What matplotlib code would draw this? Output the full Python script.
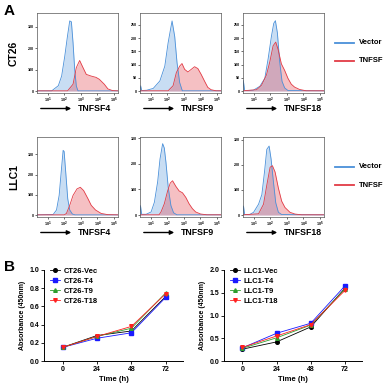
import numpy as np
import matplotlib
matplotlib.use("Agg")
import matplotlib.pyplot as plt
from matplotlib.lines import Line2D
from matplotlib.patches import FancyArrowPatch

plt.rcParams["font.family"] = ["Liberation Sans", "DejaVu Sans"]
plt.rcParams["font.weight"] = "bold"

# ---- flow histograms (x in log10 decades, y = count) ----
ct26_f4_vec_x = [0.35, 1.24, 1.64, 1.84, 2.03, 2.19, 2.33, 2.43, 2.53, 2.63, 2.73, 2.83, 5.25]
ct26_f4_vec_y = [1, 1, 25, 70, 163, 255, 328, 324, 226, 101, 23, 1, 1]
ct26_f4_tnf_x = [0.35, 2.2, 2.53, 2.73, 2.93, 3.13, 3.33, 3.63, 3.92, 4.12, 4.42, 4.64, 4.92, 5.25]
ct26_f4_tnf_y = [1, 1, 32, 110, 143, 110, 78, 70, 64, 55, 32, 10, 2, 1]

ct26_f9_vec_x = [0.35, 0.39, 0.45, 0.75, 1.15, 1.55, 1.85, 2.05, 2.19, 2.29, 2.45, 2.59, 2.75, 2.91, 5.25]
ct26_f9_vec_y = [2, 20, 2, 3, 10, 38, 94, 182, 231, 265, 206, 107, 32, 1, 1]
ct26_f9_tnf_x = [0.35, 2.05, 2.35, 2.55, 2.75, 2.89, 3.05, 3.25, 3.45, 3.65, 3.85, 4.05, 4.25, 4.45, 4.65, 4.95, 5.25]
ct26_f9_tnf_y = [1, 1, 20, 70, 94, 104, 82, 72, 82, 92, 85, 63, 38, 14, 5, 1, 1]

ct26_f18_vec_x = [0.35, 0.37, 0.45, 0.97, 1.37, 1.67, 1.87, 2.07, 2.21, 2.31, 2.43, 2.57, 2.71, 2.87, 3.07, 5.25]
ct26_f18_vec_y = [5, 40, 2, 3, 18, 48, 122, 207, 256, 266, 220, 110, 37, 12, 2, 1]
ct26_f18_tnf_x = [0.35, 1.17, 1.47, 1.77, 1.97, 2.17, 2.33, 2.47, 2.67, 2.87, 3.07, 3.27, 3.47, 3.77, 4.17, 5.25]
ct26_f18_tnf_y = [1, 5, 22, 61, 110, 171, 185, 158, 103, 78, 48, 26, 15, 6, 1, 1]

llc1_f4_vec_x = [0.35, 1.33, 1.53, 1.69, 1.81, 1.93, 1.99, 2.09, 2.21, 2.33, 2.49, 2.65, 5.25]
llc1_f4_vec_y = [1, 3, 25, 97, 209, 319, 314, 209, 80, 25, 5, 1, 1]
llc1_f4_tnf_x = [0.35, 2.0, 2.13, 2.33, 2.53, 2.77, 2.97, 3.17, 3.43, 3.63, 3.89, 4.23, 4.63, 5.25]
llc1_f4_tnf_y = [1, 1, 8, 48, 97, 129, 137, 121, 81, 48, 25, 8, 2, 1]

llc1_f9_vec_x = [0.35, 0.38, 0.45, 0.72, 1.02, 1.22, 1.42, 1.56, 1.72, 1.82, 1.92, 2.06, 2.22, 2.38, 2.58, 5.25]
llc1_f9_vec_y = [5, 37, 3, 3, 12, 50, 131, 219, 279, 262, 206, 106, 37, 9, 1, 1]
llc1_f9_tnf_x = [0.35, 1.5, 1.62, 1.82, 2.02, 2.18, 2.32, 2.52, 2.72, 2.92, 3.12, 3.32, 3.52, 3.72, 4.02, 4.4, 5.25]
llc1_f9_tnf_y = [1, 1, 12, 44, 94, 125, 134, 112, 94, 87, 69, 44, 25, 12, 4, 1, 1]

llc1_f18_vec_x = [0.35, 0.38, 0.45, 0.75, 0.99, 1.29, 1.49, 1.65, 1.79, 1.93, 2.05, 2.19, 2.33, 2.49, 2.69, 5.25]
llc1_f18_vec_y = [5, 36, 2, 2, 11, 43, 81, 171, 261, 274, 222, 132, 49, 11, 2, 1]
llc1_f18_tnf_x = [0.35, 1.29, 1.59, 1.79, 1.99, 2.13, 2.29, 2.49, 2.69, 2.89, 3.19, 3.49, 3.89, 5.25]
llc1_f18_tnf_y = [1, 5, 43, 119, 190, 196, 171, 107, 55, 30, 11, 4, 1, 1]

hist_labels = ["TNFSF4", "TNFSF9", "TNFSF18"]
row_labels = ["CT26", "LLC1"]

# ---- proliferation (CCK-8) ----
time_h = [0, 24, 48, 72]
ct26_series = ["CT26-Vec", "CT26-T4", "CT26-T9", "CT26-T18"]
ct26_vals = [[0.15, 0.28, 0.33, 0.71],
             [0.15, 0.25, 0.31, 0.70],
             [0.15, 0.27, 0.36, 0.75],
             [0.15, 0.27, 0.38, 0.74]]
llc1_series = ["LLC1-Vec", "LLC1-T4", "LLC1-T9", "LLC1-T18"]
llc1_vals = [[0.26, 0.42, 0.75, 1.60],
             [0.29, 0.61, 0.83, 1.65],
             [0.28, 0.51, 0.79, 1.58],
             [0.30, 0.55, 0.80, 1.55]]

W, H = 386, 385
fig = plt.figure(figsize=(W / 100, H / 100), dpi=100)

def fx(px):
    return px / W

def fy(py):
    return 1 - py / H

blue = "#4a90d9"
red = "#e23b45"

panels = [
    [(ct26_f4_vec_x, ct26_f4_vec_y, ct26_f4_tnf_x, ct26_f4_tnf_y, [0, 100, 200, 300], 365),
     (ct26_f9_vec_x, ct26_f9_vec_y, ct26_f9_tnf_x, ct26_f9_tnf_y, [0, 50, 100, 150, 200, 250], 295),
     (ct26_f18_vec_x, ct26_f18_vec_y, ct26_f18_tnf_x, ct26_f18_tnf_y, [0, 50, 100, 150, 200, 250], 295)],
    [(llc1_f4_vec_x, llc1_f4_vec_y, llc1_f4_tnf_x, llc1_f4_tnf_y, [0, 100, 200, 300], 385),
     (llc1_f9_vec_x, llc1_f9_vec_y, llc1_f9_tnf_x, llc1_f9_tnf_y, [0, 100, 200, 300], 305),
     (llc1_f18_vec_x, llc1_f18_vec_y, llc1_f18_tnf_x, llc1_f18_tnf_y, [0, 100, 200, 300], 310)],
]

lefts = [37, 140, 243]
tops = [13, 137]
for r in range(2):
    for c in range(3):
        vx, vy, tx, ty, yt, ytop = panels[r][c]
        ax = fig.add_axes([fx(lefts[c]), fy(tops[r] + 80), fx(81), 80 / H])
        ax.fill_between(vx, vy, 0, color=blue, alpha=0.3, lw=0)
        ax.plot(vx, vy, color=blue, lw=0.6)
        ax.fill_between(tx, ty, 0, color=red, alpha=0.32, lw=0)
        ax.plot(tx, ty, color=red, lw=0.6)
        ax.set_xlim(0.35, 5.25)
        ax.set_ylim(-0.025 * ytop, ytop)
        ax.set_yticks(yt)
        ax.set_yticklabels([str(v) for v in yt])
        ax.set_xticks([1, 2, 3, 4, 5])
        ax.set_xticklabels([f"10$^{k}$" for k in range(1, 6)])
        ax.tick_params(labelsize=2.6, length=1.2, width=0.4, pad=0.8)
        for s in ax.spines.values():
            s.set_linewidth(0.5)
            s.set_color("#555555")
        # x label with arrow
        ly = tops[r] + 95.5
        fig.add_artist(FancyArrowPatch(
            (fx(lefts[c] + 1), fy(ly)), (fx(lefts[c] + 37), fy(ly)),
            transform=fig.transFigure, arrowstyle="-|>", mutation_scale=6,
            lw=1.0, color="black"))
        fig.text(fx(lefts[c] + 41), fy(ly), hist_labels[c], fontsize=6.3,
                 fontweight="bold", va="center", ha="left")
    fig.text(fx(14), fy(tops[r] + 40), row_labels[r], rotation=90, fontsize=7.5,
             fontweight="bold", va="center", ha="center")
    # legend
    for k, (lab, col) in enumerate([("Vector", blue), ("TNFSF", red)]):
        yy = fy(tops[r] + 30 + k * 18)
        fig.add_artist(Line2D([fx(335), fx(354)], [yy, yy], transform=fig.transFigure,
                              color=col, lw=1.3))
        fig.text(fx(359), yy, lab, fontsize=5.5, fontweight="bold", va="center")

fig.text(fx(4), fy(11), "A", fontsize=11, fontweight="bold", va="center")
fig.text(fx(4), fy(267), "B", fontsize=11, fontweight="bold", va="center")

# ---- panel B ----
colors = ["black", "#1a1aff", "#2e9e2e", "#ff2020"]
markers = ["o", "s", "^", "v"]

def growth(ax, series, vals, ymax, step):
    for name, v, col, m in zip(series, vals, colors, markers):
        ax.plot(time_h, v, color=col, lw=0.6, marker=m, ms=2.6, label=name)
    ax.set_xlim(-13, 84)
    ax.set_ylim(0, ymax)
    ax.set_xticks(time_h)
    yt = np.arange(0, ymax + step / 2, step)
    ax.set_yticks(yt)
    ax.set_yticklabels([f"{t:.1f}" for t in yt])
    ax.spines["top"].set_visible(False)
    ax.spines["right"].set_visible(False)
    for s in ("left", "bottom"):
        ax.spines[s].set_linewidth(0.7)
    ax.tick_params(labelsize=5, length=2, width=0.6, pad=1.5)
    for t in ax.get_xticklabels() + ax.get_yticklabels():
        t.set_fontweight("bold")
    ax.set_xlabel("Time (h)", fontsize=5.5, fontweight="bold", labelpad=2)
    ax.set_ylabel("Absorbance (450nm)", fontsize=5, fontweight="bold", labelpad=2)
    ax.legend(loc="upper left", bbox_to_anchor=(0.02, 1.06), frameon=False,
              handlelength=1.3, handletextpad=0.5, labelspacing=0.35,
              borderaxespad=0, prop={"weight": "bold", "size": 5.5})

axb1 = fig.add_axes([fx(44), fy(361), fx(139), 91 / H])
growth(axb1, ct26_series, ct26_vals, 1.0, 0.2)
axb2 = fig.add_axes([fx(224), fy(361), fx(138), 91 / H])
growth(axb2, llc1_series, llc1_vals, 2.0, 0.5)

fig.savefig("out.png", dpi=100)
